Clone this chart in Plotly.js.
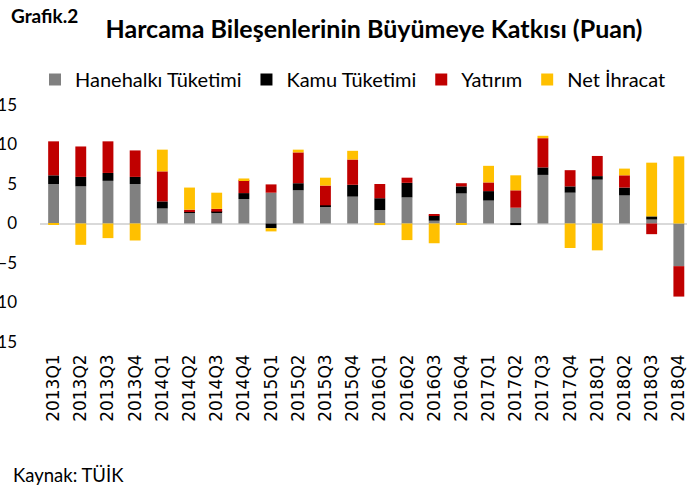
<!DOCTYPE html>
<html>
<head>
<meta charset="utf-8">
<script src="https://cdn.plot.ly/plotly-3.0.1.min.js"></script>
<style>html,body{margin:0;padding:0;background:#fff;}#chart{width:687px;height:487px;}</style>
</head>
<body>
<div id="chart"></div>
<script>
const quarters = ["2013Q1","2013Q2","2013Q3","2013Q4","2014Q1","2014Q2","2014Q3","2014Q4",
  "2015Q1","2015Q2","2015Q3","2015Q4","2016Q1","2016Q2","2016Q3","2016Q4",
  "2017Q1","2017Q2","2017Q3","2017Q4","2018Q1","2018Q2","2018Q3","2018Q4"];
const hanehalki = [5.0,4.7,5.4,5.0,1.9,1.35,1.35,3.1,3.9,4.2,2.2,3.4,1.7,3.3,0.35,3.8,2.9,2.0,6.15,3.9,5.55,3.55,0.5,-5.4];
const kamu      = [1.1,1.2,1.0,0.9,0.9,0.1,0.15,0.75,-0.6,0.9,0.1,1.5,1.5,1.85,0.65,0.9,1.2,-0.2,0.95,0.8,0.45,1.0,0.4,0.0];
const yatirim   = [4.3,3.85,4.0,3.35,3.8,0.3,0.35,1.65,1.05,3.9,2.5,3.2,1.8,0.65,0.15,0.4,1.1,2.2,3.7,2.05,2.55,1.55,-1.35,-3.85];
const netIhracat= [-0.1,-2.7,-1.85,-2.15,2.75,2.8,2.05,0.2,-0.4,0.35,1.0,1.1,-0.2,-2.1,-2.5,-0.1,2.1,1.9,0.3,-3.1,-3.4,0.85,6.8,8.5];
const seriesNames = ["Hanehalkı Tüketimi","Kamu Tüketimi","Yatırım","Net İhracat"];
const seriesColors = ["#808080","#000000","#C00000","#FFC000"];
const seriesValues = [hanehalki, kamu, yatirim, netIhracat];

const traces = seriesValues.map((vals, i) => ({
  type: "bar",
  name: seriesNames[i],
  x: quarters,
  y: vals,
  marker: {color: seriesColors[i], line: {width: 0}},
  hoverinfo: "x+y+name"
}));

const W = 687, H = 487;
const FONT = "Lato, 'Open Sans', sans-serif";
const layout = {
  width: W, height: H,
  barmode: "relative",
  bargap: 0.6,
  paper_bgcolor: "#ffffff",
  plot_bgcolor: "#ffffff",
  margin: {l: 40, r: 0, t: 105, b: 145, pad: 0},
  font: {family: FONT, color: "#000000"},
  title: {
    text: "<b>Harcama Bileşenlerinin Büyümeye Katkısı (Puan)</b>",
    font: {family: FONT, size: 25, color: "#000000"},
    xref: "container", yref: "container",
    x: 374 / W, xanchor: "center",
    y: 1 - 29 / H, yanchor: "middle"
  },
  xaxis: {
    type: "category",
    range: [-0.5, 23.3],
    tickangle: -90,
    tickfont: {family: "DejaVu Sans", size: 17, color: "#000000"},
    showgrid: false, zeroline: false, showline: false, ticks: "",
    ticklabelstandoff: 8,
    automargin: false
  },
  yaxis: {
    range: [-15, 15],
    dtick: 5, tick0: 0,
    tickfont: {family: FONT, size: 17, color: "#000000"},
    showgrid: false, showline: false, ticks: "",
    zeroline: true, zerolinecolor: "#d9d9d9", zerolinewidth: 2,
    ticklabelstandoff: 22,
    automargin: false
  },
  showlegend: true,
  legend: {
    orientation: "h",
    xref: "container", yref: "container",
    x: 35 / W, xanchor: "left",
    y: 1 - 60 / H, yanchor: "top",
    font: {family: FONT, size: 20, color: "#000000"},
    itemwidth: 30,
    traceorder: "normal",
    bgcolor: "rgba(0,0,0,0)"
  },
  annotations: [
    {text: "<b>Grafik.2</b>", xref: "paper", yref: "paper", showarrow: false,
     x: -31 / 647, xanchor: "left", y: 1 + (105 - 16) / 237, yanchor: "middle",
     font: {family: FONT, size: 19, color: "#000000"}},
    {text: "Kaynak: TÜİK", xref: "paper", yref: "paper", showarrow: false,
     x: -29 / 647, xanchor: "left", y: -(475 - 342) / 237, yanchor: "middle",
     font: {family: FONT, size: 18.5, color: "#000000"}}
  ]
};

Plotly.newPlot("chart", traces, layout, {displayModeBar: false, responsive: false});
</script>
</body>
</html>
